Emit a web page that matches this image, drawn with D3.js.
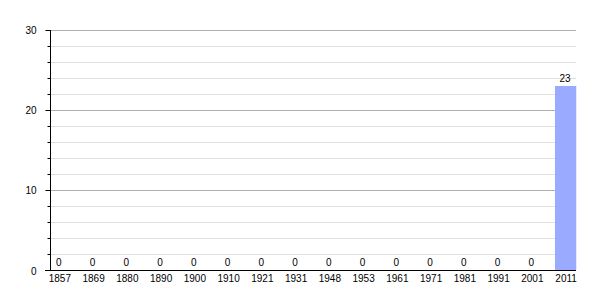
<!DOCTYPE html>
<html>
<head>
<meta charset="utf-8">
<script src="https://cdn.jsdelivr.net/npm/d3@7"></script>
<style>
  body { margin: 0; background: #fff; }
  text { font-family: "Liberation Sans", Arial, sans-serif; font-size: 10px; fill: #000; }
</style>
</head>
<body>
<div id="chart"></div>
<script>
const years = ["1857", "1869", "1880", "1890", "1900", "1910", "1921", "1931", "1948",
  "1953", "1961", "1971", "1981", "1991", "2001", "2011"];
const population = [0, 0, 0, 0, 0, 0, 0, 0, 0, 0, 0, 0, 0, 0, 0, 23];
const majorTicks = [0, 10, 20, 30];
const minorTicks = [2, 4, 6, 8, 12, 14, 16, 18, 22, 24, 26, 28];

const W = 605, H = 300;
const plotLeft = 50, plotRight = 576, plotTop = 30, plotBottom = 270;

const svg = d3.select("#chart").append("svg")
  .attr("width", W)
  .attr("height", H);

const x = d3.scaleBand().domain(years).range([43, 583]);
const y = d3.scaleLinear().domain([0, 30]).range([plotBottom, plotTop]);

// grid
svg.append("g").selectAll("line.minor")
  .data(minorTicks).enter().append("line")
  .attr("x1", plotLeft).attr("x2", plotRight)
  .attr("y1", (d) => y(d) + 0.5).attr("y2", (d) => y(d) + 0.5)
  .attr("stroke", "#e0e0e0");

svg.append("g").selectAll("line.major")
  .data(majorTicks.filter((d) => d > 0)).enter().append("line")
  .attr("x1", plotLeft).attr("x2", plotRight)
  .attr("y1", (d) => y(d) + 0.5).attr("y2", (d) => y(d) + 0.5)
  .attr("stroke", "#b0b0b0");

// bars
const step = x.step();
svg.append("g").selectAll("rect")
  .data(population).enter().append("rect")
  .attr("x", (d, i) => x(years[i]) + step * 0.17)
  .attr("width", step * 0.63)
  .attr("y", (d) => y(d))
  .attr("height", (d) => y(0) - y(d))
  .attr("fill", "#99aaff");

// value labels
svg.append("g").selectAll("text")
  .data(population).enter().append("text")
  .attr("x", (d, i) => x(years[i]) + step / 2 - 1)
  .attr("y", (d) => y(d) - 4)
  .attr("text-anchor", "middle")
  .text((d) => d);

// y axis
const yAxis = svg.append("g").attr("transform", `translate(${plotLeft + 0.5},0)`);
yAxis.append("line")
  .attr("y1", plotTop).attr("y2", plotBottom)
  .attr("stroke", "#000");
yAxis.selectAll("line.mj").data(majorTicks).enter().append("line")
  .attr("x1", -5).attr("x2", 0)
  .attr("y1", (d) => y(d) + 0.5).attr("y2", (d) => y(d) + 0.5)
  .attr("stroke", "#000");
yAxis.selectAll("line.mn").data(minorTicks).enter().append("line")
  .attr("x1", -3).attr("x2", 0)
  .attr("y1", (d) => y(d) + 0.5).attr("y2", (d) => y(d) + 0.5)
  .attr("stroke", "#000");
yAxis.selectAll("text").data(majorTicks).enter().append("text")
  .attr("x", -14)
  .attr("y", (d) => y(d) + (d === 0 ? 5 : 3.5))
  .attr("text-anchor", "end")
  .text((d) => d);

// x axis
svg.append("line")
  .attr("x1", 45).attr("x2", plotRight)
  .attr("y1", plotBottom + 0.5).attr("y2", plotBottom + 0.5)
  .attr("stroke", "#000");
svg.append("g").selectAll("text")
  .data(years).enter().append("text")
  .attr("x", (d) => x(d) + step / 2)
  .attr("y", plotBottom + 12)
  .attr("text-anchor", "middle")
  .text((d) => d);
</script>
</body>
</html>
